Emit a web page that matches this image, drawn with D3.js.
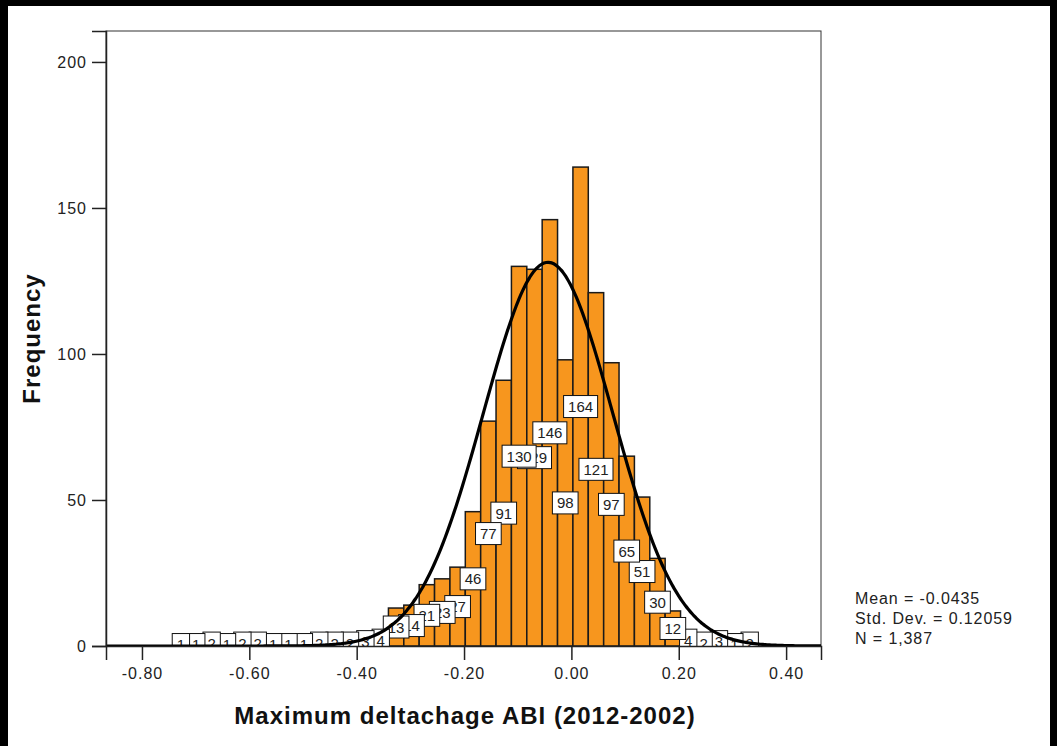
<!DOCTYPE html>
<html>
<head>
<meta charset="utf-8">
<script src="https://cdn.jsdelivr.net/npm/d3@7"></script>
<style>
  body { margin: 0; background: #000; }
  svg { display: block; }
  text { font-family: Arial, "Liberation Sans", sans-serif; }
</style>
</head>
<body>
<div id="chart"></div>
<script>
// histogram counts, left to right
const binCounts = [1, 1, 2, 1, 2, 2, 1, 1, 1, 2, 2, 2, 3, 4, 13, 14, 21, 23, 27, 46, 77, 91,
  130, 129, 146, 98, 164, 121, 97, 65, 51, 30, 12, 4, 2, 3, 1, 2];
const binStart = -0.7418;
const binWidth = 0.02864;
const xTicks = [-0.8, -0.6, -0.4, -0.2, 0, 0.2, 0.4];
const yTicks = [0, 50, 100, 150, 200];
const stats = { mean: -0.0435, sd: 0.12059, n: 1387 };
const statLines = ["Mean = -0.0435", "Std. Dev. = 0.12059", "N = 1,387"];

const W = 1057, H = 746;
const plot = { left: 106, top: 31, right: 821, bottom: 646 };

const bins = binCounts.map((c, i) => ({
  x0: binStart + i * binWidth,
  x1: binStart + (i + 1) * binWidth,
  count: c
}));

const svg = d3.select("#chart").append("svg").attr("width", W).attr("height", H);

// white panel inside black border
svg.append("rect").attr("x", 8).attr("y", 6).attr("width", W - 8 - 7).attr("height", H - 6).attr("fill", "#fff");

let x = d3.scaleLinear().domain([-0.867, 0.465]).range([plot.left, plot.right]);
let y = d3.scaleLinear().domain([0, 210.6]).range([plot.bottom, plot.top]);

svg.append("clipPath").attr("id", "plotclip")
  .append("rect")
  .attr("x", plot.left).attr("y", plot.top)
  .attr("width", plot.right - plot.left).attr("height", plot.bottom - plot.top);

// frame
svg.append("rect")
  .attr("x", plot.left).attr("y", plot.top)
  .attr("width", plot.right - plot.left).attr("height", plot.bottom - plot.top)
  .attr("fill", "none").attr("stroke", "#333").attr("stroke-width", 1);

// ---- BARS ----
svg.append("g")
  .selectAll("rect")
  .data(bins.filter(d => d.count > 0))
  .enter()
  .append("rect")
  .attr("x", d => x(d.x0))
  .attr("y", d => y(d.count))
  .attr("width", d => x(d.x1) - x(d.x0))
  .attr("height", d => y(0) - y(d.count))
  .attr("fill", "#f7961e")
  .attr("stroke", "#1a1a1a")
  .attr("stroke-width", 1.5);

// ---- BAR LABELS (drawn right to left so left ones sit on top) ----
let labelGroup = svg.append("g").attr("clip-path", "url(#plotclip)");
bins.filter(d => d.count > 0).slice().reverse().forEach(d => {
  const cx = x((d.x0 + d.x1) / 2);
  const cy = (y(d.count) + y(0)) / 2;
  const g = labelGroup.append("g");
  const box = g.append("rect").attr("fill", "#fff").attr("stroke", "#111").attr("stroke-width", 1);
  const t = g.append("text")
    .attr("x", cx).attr("y", cy)
    .attr("text-anchor", "middle")
    .attr("dominant-baseline", "central")
    .style("font-size", "15px")
    .attr("fill", "#222")
    .text(d.count);
  const tw = t.node().getComputedTextLength();
  box.attr("x", cx - tw / 2 - 4.5).attr("y", cy - 11)
    .attr("width", tw + 9).attr("height", 22);
});

// ---- NORMAL CURVE ----
const scaleK = stats.n * binWidth / (stats.sd * Math.sqrt(2 * Math.PI));
const curvePts = d3.range(x.domain()[0], x.domain()[1] + 0.001, 0.004).map(v => {
  const z = (v - stats.mean) / stats.sd;
  return [v, scaleK * Math.exp(-0.5 * z * z)];
});
svg.append("path")
  .datum(curvePts)
  .attr("clip-path", "url(#plotclip)")
  .attr("fill", "none")
  .attr("stroke", "#000")
  .attr("stroke-width", 3.2)
  .attr("d", d3.line().x(d => x(d[0])).y(d => y(d[1])).curve(d3.curveBasis));

// ---- AXES ----
let yAxis = d3.axisLeft(y).tickValues(yTicks).tickSize(14).tickPadding(5).tickFormat(d3.format("d"));
let xAxis = d3.axisBottom(x).tickValues(xTicks).tickSize(14).tickPadding(8).tickFormat(d => d.toFixed(2));

let yAxisGroup = svg.append("g").attr("transform", "translate(" + plot.left + ",0)").call(yAxis);
let xAxisGroup = svg.append("g").attr("transform", "translate(0," + plot.bottom + ")").call(xAxis);

[yAxisGroup, xAxisGroup].forEach(g => {
  g.select(".domain").attr("stroke", "#222").attr("stroke-width", 1.5);
  g.selectAll(".tick line").attr("stroke", "#222").attr("stroke-width", 1.5);
  g.selectAll(".tick text")
    .style("font-size", "16px")
    .style("letter-spacing", "1px")
    .style("font-family", "Arial, 'Liberation Sans', sans-serif")
    .attr("fill", "#222");
});

// axis titles
svg.append("text")
  .attr("transform", "translate(40," + ((plot.top + plot.bottom) / 2) + ") rotate(-90)")
  .attr("text-anchor", "middle")
  .style("font-size", "24px").style("font-weight", "bold")
  .style("letter-spacing", "1px")
  .attr("fill", "#111")
  .text("Frequency");

svg.append("text")
  .attr("x", 465).attr("y", 724)
  .attr("text-anchor", "middle")
  .style("font-size", "24px").style("font-weight", "bold")
  .style("letter-spacing", "1px")
  .attr("fill", "#111")
  .text("Maximum deltachage ABI (2012-2002)");

// stats box
svg.append("g").selectAll("text").data(statLines).enter()
  .append("text")
  .attr("x", 855).attr("y", (d, i) => 604 + i * 20)
  .style("font-size", "16px")
  .style("letter-spacing", "0.9px")
  .attr("fill", "#222")
  .text(d => d);
</script>
</body>
</html>
